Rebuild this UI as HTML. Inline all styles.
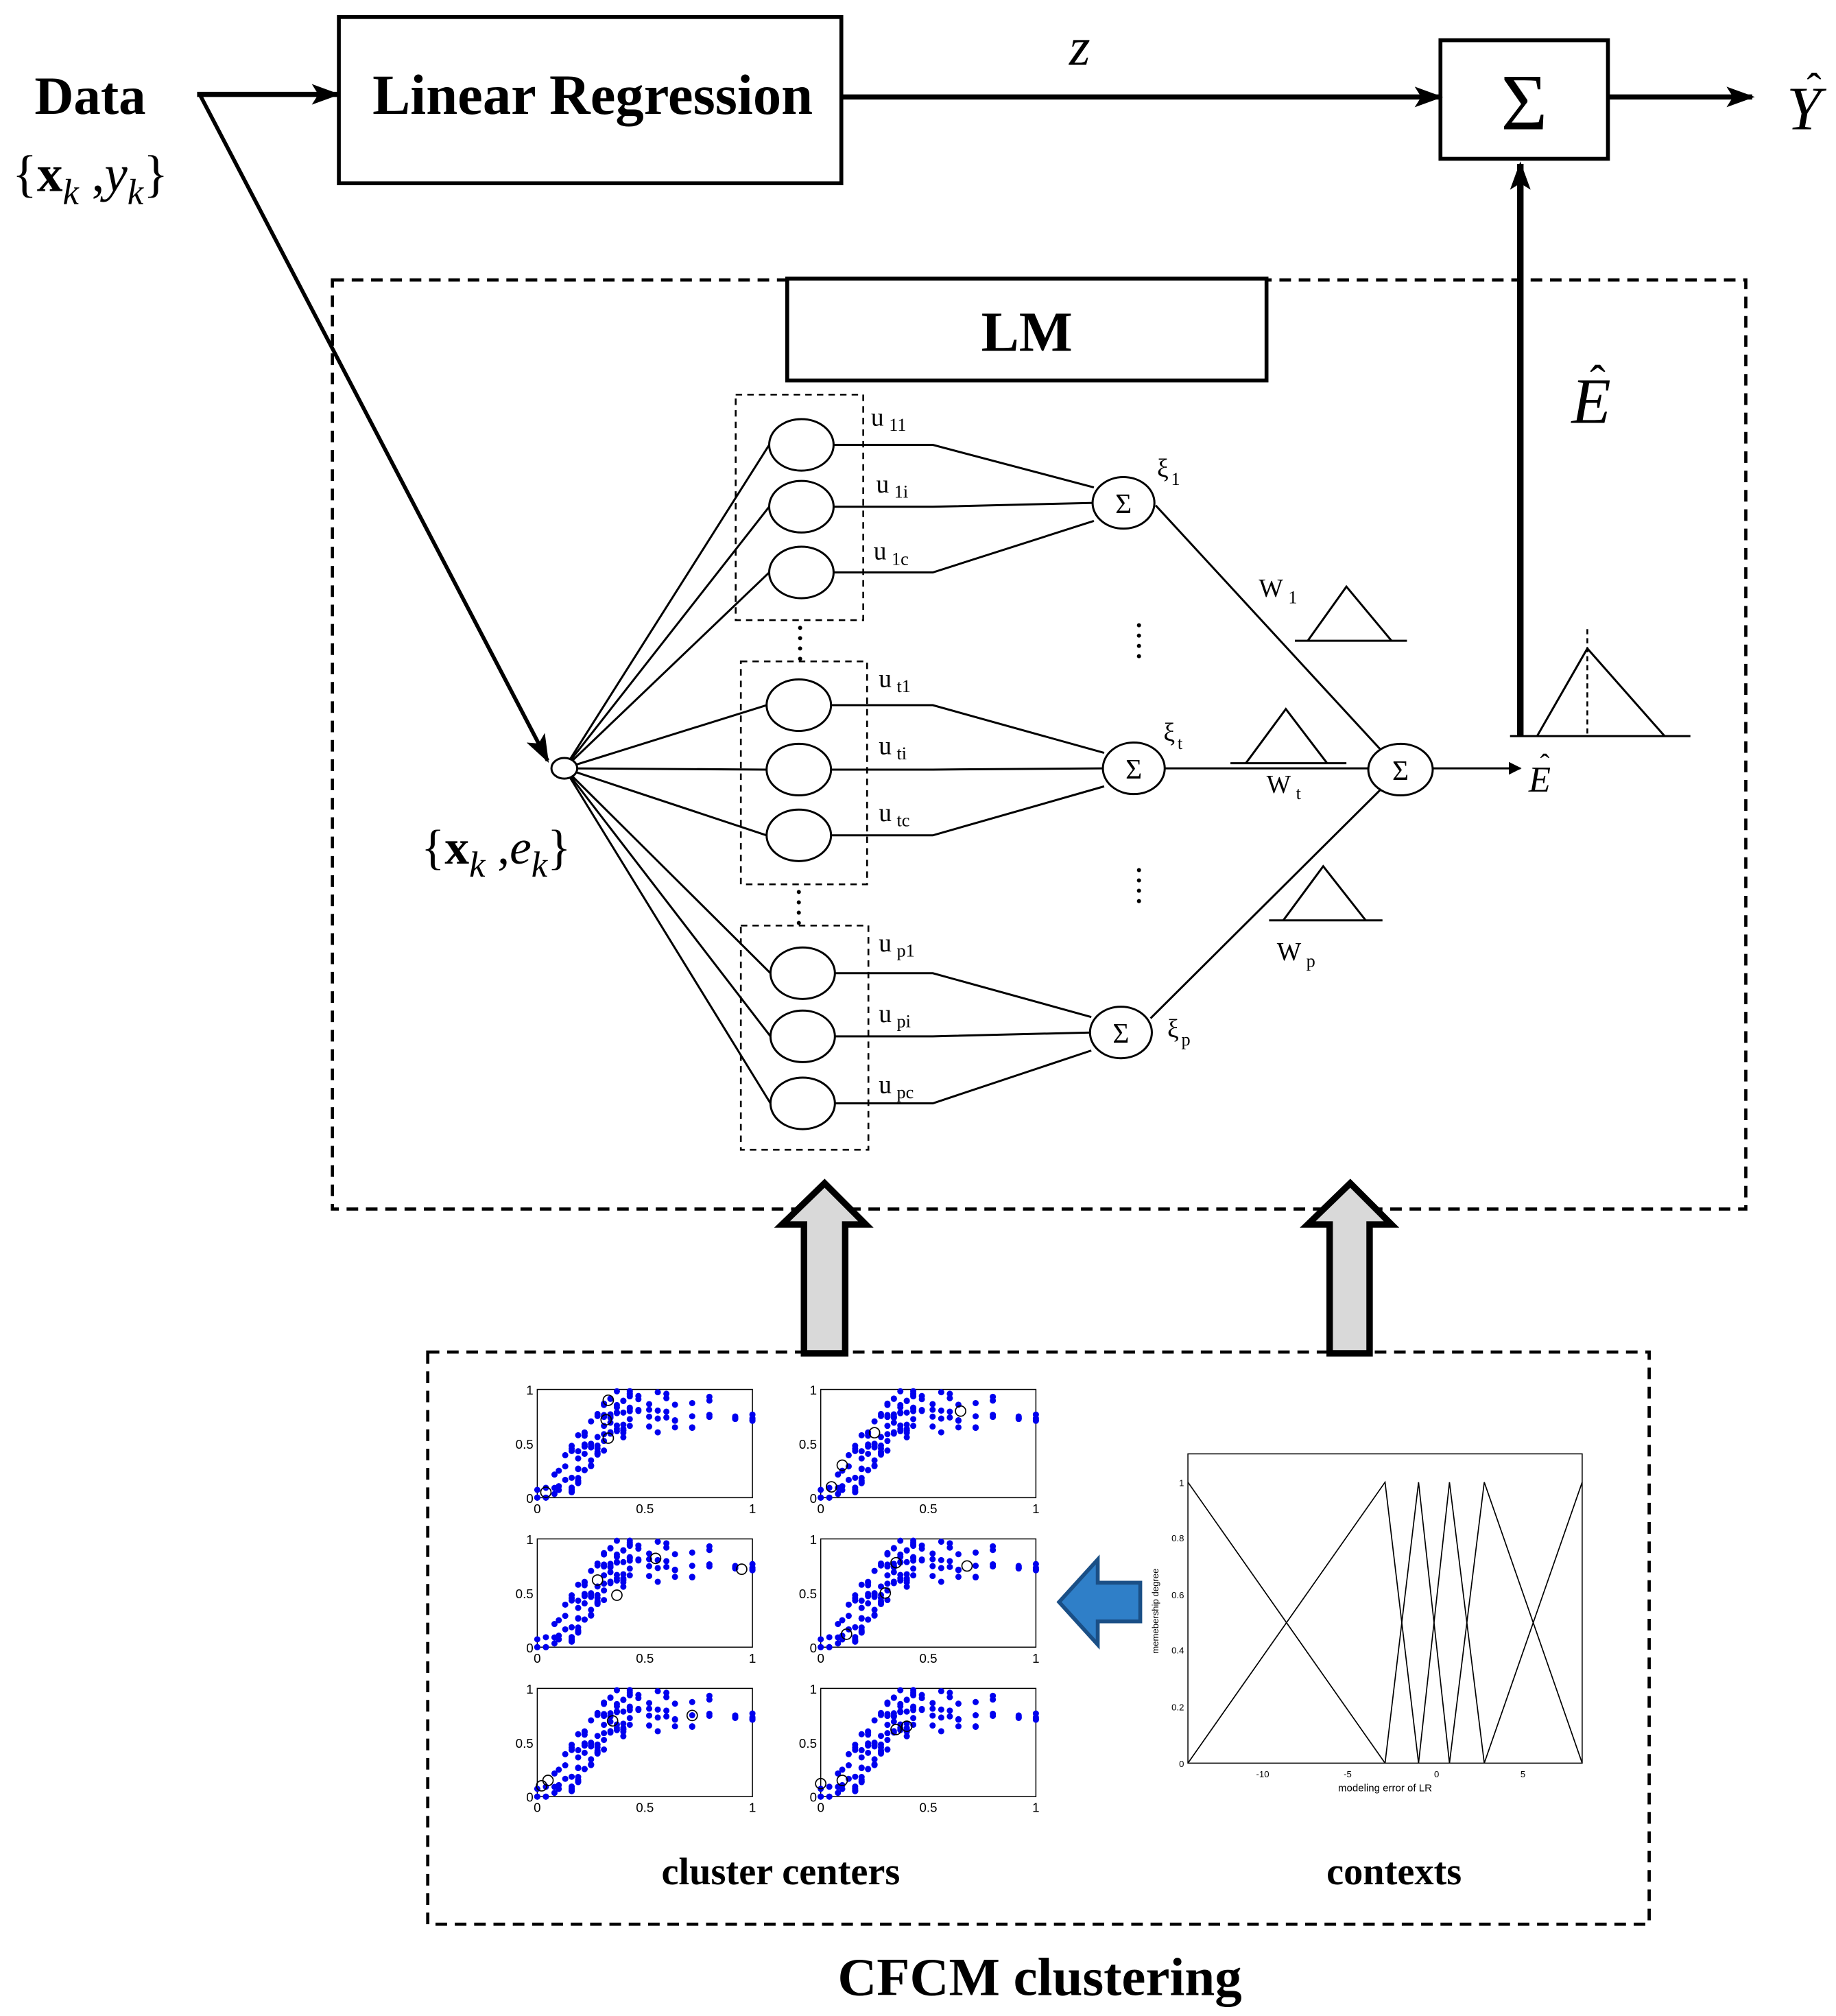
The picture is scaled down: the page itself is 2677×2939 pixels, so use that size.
<!DOCTYPE html>
<html><head><meta charset="utf-8"><style>
html,body{margin:0;padding:0;background:#fff;}
svg{display:block;}
</style></head><body>
<svg id="s" width="2677" height="2939" viewBox="0 0 1425 1564" xmlns="http://www.w3.org/2000/svg" font-family="Liberation Serif,serif">
<defs>
<marker id="a" markerWidth="10" markerHeight="10" refX="9" refY="5" orient="auto" markerUnits="userSpaceOnUse"><path d="M0,0 L10,5 L0,10 Z" fill="#000"/></marker>
<marker id="ab" markerWidth="22" markerHeight="16" refX="20" refY="8" orient="auto" markerUnits="userSpaceOnUse"><path d="M0,0 L22,8 L0,16 L5,8 Z" fill="#000"/></marker>
</defs>
<rect width="1425" height="1564" fill="#fff"/>
<text x="70" y="88" font-size="42" font-weight="bold" text-anchor="middle">Data</text>
<text x="70" y="148" font-size="40" text-anchor="middle">{<tspan font-weight="bold">x</tspan><tspan font-style="italic" font-size="28" dy="10">k</tspan><tspan dy="-10"> ,</tspan><tspan font-style="italic">y</tspan><tspan font-style="italic" font-size="28" dy="10">k</tspan><tspan dy="-10">}</tspan></text>
<line x1="153" y1="73" x2="262" y2="73" stroke="#000" stroke-width="4" marker-end="url(#ab)"/>
<rect x="263" y="13" width="390" height="129" fill="none" stroke="#000" stroke-width="3"/>
<text x="460" y="88" font-size="44" font-weight="bold" text-anchor="middle">Linear Regression</text>
<text x="838" y="50" font-size="42" font-style="italic" text-anchor="middle">z</text>
<line x1="653" y1="75" x2="1118" y2="75" stroke="#000" stroke-width="4" marker-end="url(#ab)"/>
<rect x="1118" y="31" width="130" height="92" fill="none" stroke="#000" stroke-width="3"/>
<text x="1183" y="100" font-size="62" text-anchor="middle">Σ</text>
<line x1="1248" y1="75" x2="1360" y2="75" stroke="#000" stroke-width="4" marker-end="url(#ab)"/>
<text x="1400" y="100" font-size="48" font-style="italic" text-anchor="middle">Y</text>
<text x="1408" y="80" font-size="34" text-anchor="middle">ˆ</text>
<line x1="155" y1="73" x2="425" y2="590" stroke="#000" stroke-width="3" marker-end="url(#ab)"/>
<rect x="258" y="217" width="1097" height="721" fill="none" stroke="#000" stroke-width="2.5" stroke-dasharray="9,6"/>
<rect x="611" y="216" width="372" height="79" fill="#fff" stroke="#000" stroke-width="3"/>
<text x="797" y="272" font-size="44" font-weight="bold" text-anchor="middle">LM</text>
<g id="net" stroke="#000" stroke-width="1.6" fill="none"></g>
<text x="385" y="670" font-size="38" text-anchor="middle">{<tspan font-weight="bold">x</tspan><tspan font-style="italic" font-size="28" dy="10">k</tspan><tspan dy="-10"> ,</tspan><tspan font-style="italic">e</tspan><tspan font-style="italic" font-size="28" dy="10">k</tspan><tspan dy="-10">}</tspan></text>
<line x1="1112" y1="596" x2="1180" y2="596" stroke="#000" stroke-width="1.6" marker-end="url(#a)"/>
<text x="1195" y="614" font-size="28" font-style="italic" text-anchor="middle">E</text>
<text x="1199" y="600" font-size="22" text-anchor="middle">ˆ</text>
<line x1="1172" y1="571" x2="1312" y2="571" stroke="#000" stroke-width="1.6"/>
<path d="M1193,571 L1232,503 L1292,571" fill="none" stroke="#000" stroke-width="1.6"/>
<line x1="1232" y1="488" x2="1232" y2="571" stroke="#000" stroke-width="1.4" stroke-dasharray="4,3"/>
<line x1="1180" y1="571" x2="1180" y2="127" stroke="#000" stroke-width="5" marker-end="url(#ab)"/>
<text x="1235" y="328" font-size="50" font-style="italic" text-anchor="middle">E</text>
<text x="1240" y="308" font-size="36" text-anchor="middle">ˆ</text>
<path d="M624,1050 L624,950 L607,950 L640,918 L672,950 L656,950 L656,1050 Z" fill="#d9d9d9" stroke="#000" stroke-width="5"/>
<path d="M1032,1050 L1032,950 L1015,950 L1048,918 L1080,950 L1063,950 L1063,1050 Z" fill="#d9d9d9" stroke="#000" stroke-width="5"/>
<rect x="332" y="1049" width="948" height="444" fill="none" stroke="#000" stroke-width="2.5" stroke-dasharray="9,6"/>
<g id="sc" font-family="Liberation Sans,sans-serif"></g>
<path d="M885,1228 L852,1228 L852,1210 L822,1243 L852,1276 L852,1258 L885,1258 Z" fill="#2f7fc8" stroke="#1a4f86" stroke-width="3"/>
<g id="ctx" font-family="Liberation Sans,sans-serif"></g>
<text x="606" y="1462" font-size="30" font-weight="bold" text-anchor="middle">cluster centers</text>
<text x="1082" y="1462" font-size="30" font-weight="bold" text-anchor="middle">contexts</text>
<text x="807" y="1548" font-size="42" font-weight="bold" text-anchor="middle">CFCM clustering</text>
</svg>
<script>
(function(){
var NS="http://www.w3.org/2000/svg";
function el(p,t,a,txt){var e=document.createElementNS(NS,t);for(var k in a)e.setAttribute(k,a[k]);if(txt!==undefined)e.textContent=txt;p.appendChild(e);return e;}
var svg=document.getElementById('s'),net=document.getElementById('net');
var groups=[
 {box:[571,306,670,481],cy:[345,393,444],cx:622,sig:[872,390],lab:['11','1i','1c'],lx:[676,680,678],ly:[330,382,434],xi:['1',898,370]},
 {box:[575,513,673,686],cy:[547,597,648],cx:620,sig:[880,596],lab:['t1','ti','tc'],lx:[682,682,682],ly:[533,585,637],xi:['t',903,575]},
 {box:[575,718,674,892],cy:[755,804,856],cx:623,sig:[870,801],lab:['p1','pi','pc'],lx:[682,682,682],ly:[738,793,848],xi:['p',906,805]}];
var inx=438,iny=596;
groups.forEach(function(g){
 el(net,'rect',{x:g.box[0],y:g.box[1],width:g.box[2]-g.box[0],height:g.box[3]-g.box[1],'stroke-dasharray':'5,4','stroke-width':1.4});
 var sx=g.sig[0],sy=g.sig[1];
 g.cy.forEach(function(cy,i){
  el(net,'line',{x1:inx,y1:iny,x2:g.cx-25,y2:cy});
  el(net,'ellipse',{cx:g.cx,cy:cy,rx:25,ry:20,fill:'#fff'});
  var ty=[sy-12,sy,sy+14][i];
  el(net,'polyline',{points:(g.cx+25)+','+cy+' 724,'+cy+' '+(sx-23)+','+ty});
  var t=el(svg,'text',{x:g.lx[i],y:g.ly[i],'font-size':20},'u');
  el(t,'tspan',{dx:4,dy:4,'font-size':14},g.lab[i]);
 });
 el(net,'ellipse',{cx:sx,cy:sy,rx:24,ry:20,fill:'#fff'});
 el(svg,'text',{x:sx,y:sy+8,'font-size':22,'text-anchor':'middle'},'Σ');
 var t=el(svg,'text',{x:g.xi[1],y:g.xi[2],'font-size':20},'ξ');
 el(t,'tspan',{dx:2,dy:6,'font-size':14},g.xi[0]);
});
el(net,'ellipse',{cx:inx,cy:iny,rx:10,ry:8,fill:'#fff'});
el(net,'line',{x1:897,y1:392,x2:1072,y2:582});
el(net,'line',{x1:904,y1:596,x2:1062,y2:596});
el(net,'line',{x1:893,y1:790,x2:1072,y2:612});
el(net,'ellipse',{cx:1087,cy:597,rx:25,ry:20,fill:'#fff'});
el(svg,'text',{x:1087,y:605,'font-size':22,'text-anchor':'middle'},'Σ');
[[621,487],[620,692],[884,485],[884,675]].forEach(function(d){for(var i=0;i<4;i++)el(svg,'circle',{cx:d[0],cy:d[1]+i*8,r:1.6,fill:'#000'});});
function tri(b1,b2,by,p1,px,py,p2){el(net,'line',{x1:b1,y1:by,x2:b2,y2:by});el(net,'polyline',{points:p1+','+by+' '+px+','+py+' '+p2+','+by});}
tri(1005,1092,497,1015,1045,455,1080);
tri(955,1045,592,967,998,550,1030);
tri(985,1073,714,996,1027,672,1060);
[['1',977,463],['t',983,615],['p',991,745]].forEach(function(w){var t=el(svg,'text',{x:w[1],y:w[2],'font-size':20},'W');el(t,'tspan',{dx:4,dy:5,'font-size':14},w[0]);});
var sc=document.getElementById('sc');var seed=7;function rnd(){seed=(seed*16807)%2147483647;return seed/2147483647;}
var cols=[417,637],rows=[1078,1194,1310],W=167,H=84;
var cent=[[[0.04,0.05],[0.33,0.55],[0.33,0.9],[0.32,0.72]],[[0.1,0.3],[0.25,0.6],[0.65,0.8],[0.05,0.1]],[[0.28,0.62],[0.37,0.48],[0.55,0.82],[0.95,0.72]],[[0.12,0.12],[0.35,0.78],[0.68,0.75],[0.3,0.5]],[[0.05,0.15],[0.35,0.7],[0.72,0.75],[0.02,0.1]],[[0.0,0.12],[0.1,0.15],[0.35,0.62],[0.4,0.65]]];
for(var r=0;r<3;r++)for(var c=0;c<2;c++){
 var x0=cols[c],y0=rows[r];
 var g=el(sc,'g',{'font-size':10});
 el(g,'rect',{x:x0,y:y0,width:W,height:H,fill:'none',stroke:'#000','stroke-width':0.8});
 [['0',0],['0.5',0.5],['1',1]].forEach(function(t){
  el(g,'text',{x:x0-3,y:y0+H-t[1]*H+4,'text-anchor':'end'},t[0]);
  el(g,'text',{x:x0+t[1]*W,y:y0+H+12,'text-anchor':'middle'},t[0]);});
 seed=11;
 var xs=[0,0.04,0.08,0.1,0.13,0.16,0.19,0.22,0.25,0.28,0.31,0.34,0.37,0.4,0.43,0.47,0.52,0.56,0.6,0.64,0.72,0.8,0.92,1];
 xs.forEach(function(x){var f=Math.min(0.95,0.05+2.6*x);var n=x>0.15&&x<0.45?9:(x>0.45?4:3);
  for(var i=0;i<n;i++){var y=f-0.45*rnd()+0.05*rnd();if(x>0.42)y=0.6+0.4*rnd();if(x>0.85)y=0.7+0.08*rnd();y=Math.max(0,Math.min(1,y));
   el(g,'circle',{cx:x0+x*W,cy:y0+H-y*H,r:2.4,fill:'#0000ee'});}});
 cent[r*2+c].forEach(function(p){el(g,'circle',{cx:x0+p[0]*W,cy:y0+H-p[1]*H,r:4,fill:'none',stroke:'#000','stroke-width':0.9});});
}
var cx=document.getElementById('ctx');
el(cx,'rect',{x:922,y:1128,width:306,height:240,fill:'none',stroke:'#000','stroke-width':0.8});
var yTop=1150,yBot=1368;
var pk=[922,1075,1101,1125,1152,1228];
for(var i=0;i<pk.length;i++){var a=i>0?pk[i-1]:null,b=i<pk.length-1?pk[i+1]:null;var pts=[];
 if(a!==null)pts.push(a+','+yBot);pts.push(pk[i]+','+yTop);if(b!==null)pts.push(b+','+yBot);
 el(cx,'polyline',{points:pts.join(' '),fill:'none',stroke:'#000','stroke-width':0.9});}
[['0',1368],['0.2',1324],['0.4',1280],['0.6',1237],['0.8',1193],['1',1150]].forEach(function(t){el(cx,'text',{x:919,y:t[1]+3,'font-size':7,'text-anchor':'end'},t[0]);});
[['-10',980],['-5',1046],['0',1115],['5',1182]].forEach(function(t){el(cx,'text',{x:t[1],y:1379,'font-size':7,'text-anchor':'middle'},t[0]);});
el(cx,'text',{x:1075,y:1390,'font-size':8,'text-anchor':'middle'},'modeling error of LR');
el(cx,'text',{x:0,y:0,'font-size':7,'text-anchor':'middle',transform:'translate(899,1250) rotate(-90)'},'memebership degree');
})();
</script>
</body></html>
